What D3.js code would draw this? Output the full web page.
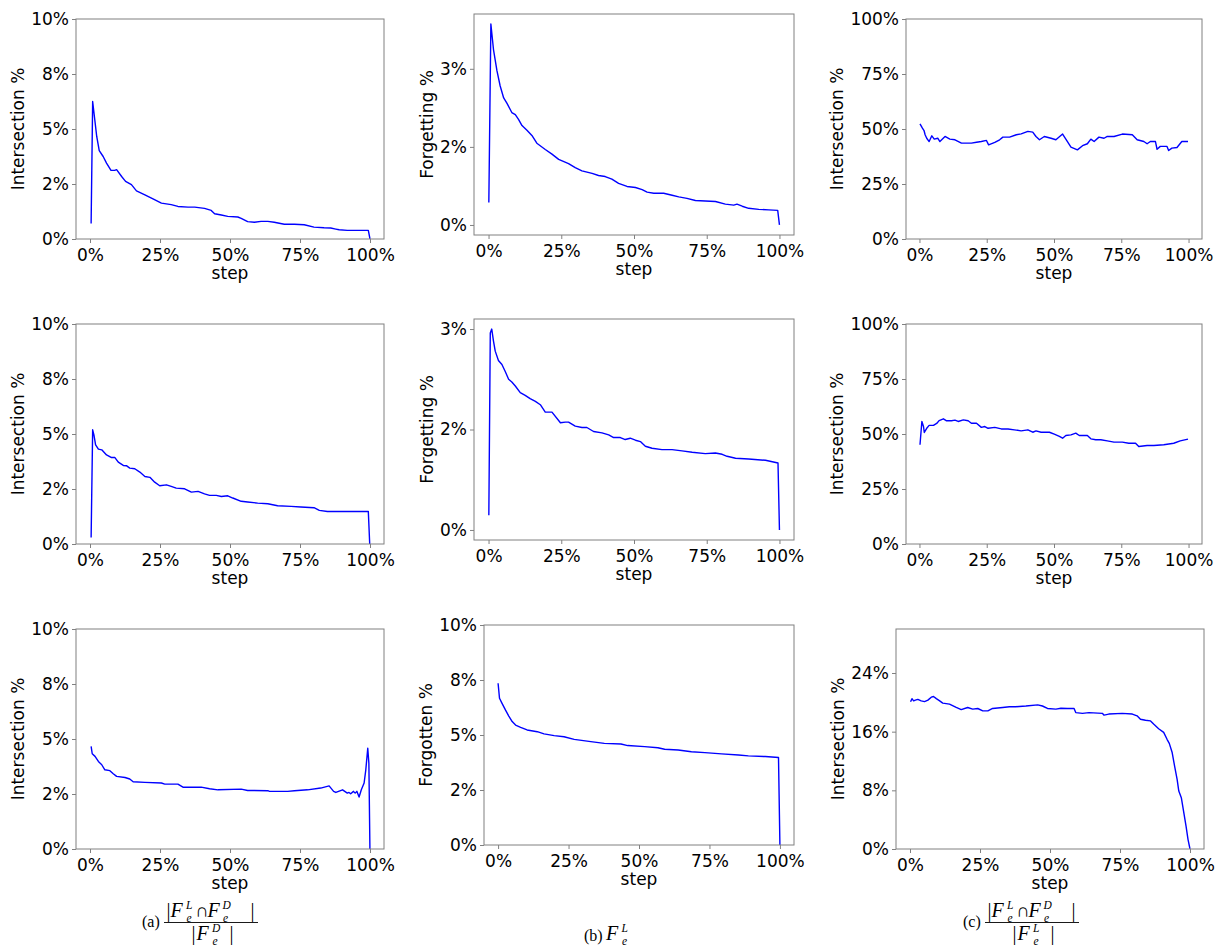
<!DOCTYPE html>
<html><head><meta charset="utf-8">
<script src="https://cdn.jsdelivr.net/npm/d3@7"></script>
<style>body{margin:0;background:#fff}</style>
</head><body>
<svg id="chart" width="1217" height="947"></svg>
<script>
// ---------- tick values & labels ----------
const xTicks = [0, 0.25, 0.5, 0.75, 1];
const xTickLabels = ["0%", "25%", "50%", "75%", "100%"];
const yTicksA = [0, 2.5, 5, 7.5, 10];
const yTickLabelsA = ["0%", "2%", "5%", "8%", "10%"];
const yTicksB = [0, 1.5, 3];
const yTickLabelsB = ["0%", "2%", "3%"];
const yTicksC = [0, 25, 50, 75, 100];
const yTickLabelsC = ["0%", "25%", "50%", "75%", "100%"];
const yTicksC3 = [0, 8, 16, 24];
const yTickLabelsC3 = ["0%", "8%", "16%", "24%"];
const xTitle = "step";

// ---------- series (step fraction, value in %) ----------
const a1Steps = [0.004,0.0095,0.024,0.033,0.047,0.059,0.075,0.088,0.095,0.113,0.127,0.148,0.166,0.196,0.225,0.255,0.29,0.314,0.35,0.374,0.409,0.433,0.445,0.469,0.492,0.528,0.54,0.563,0.587,0.611,0.635,0.658,0.694,0.73,0.765,0.80,0.836,0.86,0.878,0.89,0.919,0.955,0.994,1.0];
const a1Values = [0.70,6.25,4.66,4.02,3.75,3.45,3.12,3.12,3.15,2.84,2.62,2.47,2.19,2.01,1.82,1.63,1.56,1.48,1.45,1.45,1.39,1.30,1.15,1.09,1.03,1.00,0.94,0.79,0.76,0.80,0.80,0.76,0.67,0.67,0.65,0.54,0.51,0.50,0.45,0.42,0.39,0.39,0.39,0.0];

const b1Steps = [0.001,0.008,0.017,0.029,0.04,0.052,0.063,0.08,0.092,0.103,0.115,0.132,0.149,0.166,0.195,0.218,0.241,0.275,0.298,0.321,0.356,0.378,0.401,0.424,0.447,0.476,0.505,0.528,0.545,0.568,0.602,0.631,0.654,0.682,0.711,0.745,0.78,0.814,0.843,0.854,0.872,0.894,0.929,0.963,0.994,1.0];
const b1Values = [0.43,3.86,3.37,2.96,2.67,2.44,2.34,2.16,2.12,2.03,1.91,1.82,1.72,1.57,1.45,1.36,1.26,1.18,1.10,1.04,0.99,0.95,0.93,0.88,0.80,0.74,0.72,0.68,0.63,0.61,0.61,0.57,0.54,0.51,0.47,0.46,0.45,0.40,0.38,0.40,0.36,0.32,0.30,0.29,0.28,0.0];

const c1Steps = [0.002,0.011,0.017,0.021,0.027,0.036,0.046,0.055,0.068,0.076,0.095,0.113,0.132,0.156,0.193,0.212,0.23,0.249,0.257,0.28,0.298,0.31,0.335,0.36,0.378,0.403,0.421,0.433,0.446,0.464,0.489,0.507,0.532,0.544,0.563,0.587,0.606,0.624,0.637,0.649,0.667,0.686,0.698,0.723,0.754,0.791,0.809,0.834,0.846,0.858,0.877,0.883,0.895,0.92,0.926,0.938,0.957,0.975,0.998];
const c1Values = [52.3,50.4,49.3,47.4,45.8,44.3,46.9,45.4,45.8,44.3,46.6,45.4,45.1,43.6,43.6,44.0,44.3,44.8,42.8,43.9,45.1,46.3,46.3,47.4,47.8,48.9,48.6,46.6,45.1,46.6,45.8,45.1,47.7,45.4,41.8,40.5,42.4,43.3,45.4,44.3,46.3,45.8,46.6,46.6,47.7,47.4,45.1,44.3,43.3,44.3,44.3,40.8,42.1,42.1,40.2,41.3,41.6,44.3,44.3];

const a2Steps = [0.004,0.0095,0.014,0.02,0.03,0.042,0.059,0.077,0.089,0.101,0.119,0.13,0.142,0.16,0.178,0.196,0.214,0.231,0.249,0.273,0.29,0.308,0.338,0.362,0.386,0.409,0.427,0.451,0.469,0.492,0.51,0.54,0.563,0.599,0.635,0.67,0.718,0.753,0.80,0.819,0.848,0.919,0.994,1.0];
const a2Values = [0.30,5.19,4.96,4.51,4.31,4.28,4.05,3.93,3.93,3.72,3.57,3.56,3.45,3.42,3.27,3.07,3.03,2.81,2.65,2.69,2.62,2.54,2.51,2.36,2.39,2.28,2.21,2.21,2.16,2.19,2.09,1.94,1.91,1.86,1.83,1.74,1.71,1.68,1.65,1.53,1.48,1.48,1.48,-0.3];

const b2Steps = [0.001,0.006,0.011,0.017,0.023,0.034,0.046,0.057,0.069,0.08,0.092,0.109,0.126,0.143,0.161,0.178,0.195,0.218,0.247,0.264,0.275,0.298,0.321,0.338,0.361,0.39,0.413,0.43,0.453,0.47,0.487,0.505,0.522,0.539,0.562,0.596,0.631,0.665,0.70,0.745,0.78,0.803,0.82,0.849,0.894,0.952,0.995,1.0];
const b2Values = [0.22,2.94,3.0,2.82,2.67,2.53,2.47,2.37,2.25,2.21,2.15,2.05,2.01,1.96,1.92,1.87,1.76,1.76,1.60,1.61,1.61,1.55,1.53,1.53,1.47,1.45,1.42,1.38,1.38,1.35,1.37,1.34,1.32,1.25,1.22,1.20,1.20,1.18,1.16,1.14,1.15,1.13,1.10,1.07,1.06,1.04,1.00,0.0];

const c2Steps = [0.002,0.009,0.015,0.018,0.027,0.036,0.052,0.064,0.073,0.089,0.101,0.119,0.132,0.144,0.163,0.181,0.193,0.212,0.23,0.243,0.255,0.28,0.304,0.329,0.353,0.378,0.403,0.421,0.433,0.452,0.483,0.501,0.52,0.532,0.544,0.563,0.581,0.594,0.624,0.637,0.655,0.674,0.698,0.723,0.754,0.778,0.803,0.815,0.846,0.871,0.908,0.945,0.969,0.998];
const c2Values = [45.1,55.7,53.4,50.7,52.6,53.9,53.9,54.8,56.1,56.9,56.0,56.0,56.3,55.7,56.4,56.0,54.9,54.9,53.0,53.4,52.6,53.0,52.3,52.3,51.9,51.4,51.9,50.8,51.4,50.8,50.8,49.9,48.9,48.1,49.3,49.6,50.4,49.3,49.3,47.8,47.4,47.4,46.9,46.3,46.3,45.8,45.8,44.3,44.8,44.8,45.1,45.8,46.9,47.7];

const a3Steps = [0.004,0.008,0.018,0.03,0.042,0.053,0.071,0.083,0.095,0.125,0.142,0.154,0.196,0.255,0.267,0.314,0.332,0.397,0.427,0.457,0.54,0.563,0.635,0.641,0.706,0.73,0.777,0.824,0.854,0.87,0.878,0.902,0.919,0.925,0.931,0.941,0.947,0.953,0.961,0.969,0.979,0.985,0.992,0.996,1.0];
const a3Values = [4.66,4.33,4.21,3.98,3.83,3.60,3.56,3.42,3.30,3.25,3.18,3.06,3.03,3.00,2.95,2.95,2.81,2.81,2.74,2.69,2.72,2.66,2.65,2.62,2.62,2.65,2.69,2.77,2.87,2.62,2.57,2.69,2.54,2.57,2.51,2.62,2.54,2.62,2.36,2.69,3.00,3.60,4.58,3.90,-0.3];

const b3Steps = [0.0,0.005,0.014,0.026,0.038,0.05,0.062,0.08,0.103,0.139,0.163,0.199,0.234,0.27,0.329,0.377,0.436,0.46,0.52,0.567,0.591,0.639,0.686,0.734,0.793,0.853,0.888,0.948,0.995,1.0];
const b3Values = [7.35,6.67,6.44,6.14,5.86,5.61,5.45,5.35,5.23,5.15,5.05,4.97,4.92,4.80,4.70,4.62,4.59,4.52,4.47,4.42,4.35,4.32,4.24,4.20,4.14,4.09,4.05,4.02,3.98,0.0];

const c3Steps = [0.002,0.007,0.013,0.019,0.028,0.04,0.052,0.064,0.076,0.084,0.094,0.106,0.117,0.141,0.165,0.183,0.206,0.224,0.242,0.26,0.278,0.295,0.331,0.355,0.378,0.414,0.456,0.473,0.491,0.521,0.539,0.562,0.586,0.592,0.616,0.639,0.687,0.693,0.71,0.758,0.794,0.811,0.823,0.841,0.859,0.871,0.888,0.906,0.918,0.926,0.936,0.945,0.954,0.96,0.969,0.977,0.986,0.993,1.0];
const c3Values = [20.07,20.5,20.2,20.3,20.4,20.2,20.1,20.3,20.7,20.8,20.5,20.2,19.9,19.75,19.3,19.0,19.3,19.07,19.16,18.84,18.84,19.16,19.3,19.4,19.4,19.5,19.66,19.5,19.16,19.07,19.2,19.16,19.16,18.6,18.5,18.6,18.5,18.25,18.4,18.5,18.4,18.16,17.7,17.56,17.47,17.0,16.4,15.9,14.96,14.4,13.2,11.3,9.5,7.9,7.0,5.15,3.1,1.28,0.0];

// ---------- layout ----------
const panels = [
  {steps:a1Steps, values:a1Values, yt:yTicksA, yl:yTickLabelsA, title:"Intersection %", box:[76,384,19,239], yd:[0,10]},
  {steps:b1Steps, values:b1Values, yt:yTicksB, yl:yTickLabelsB, title:"Forgetting %", box:[474,794,14,235], yd:[-0.193,4.053]},
  {steps:c1Steps, values:c1Values, yt:yTicksC, yl:yTickLabelsC, title:"Intersection %", box:[906,1202,19,239], yd:[0,100]},
  {steps:a2Steps, values:a2Values, yt:yTicksA, yl:yTickLabelsA, title:"Intersection %", box:[76,384,324,544], yd:[0,10]},
  {steps:b2Steps, values:b2Values, yt:yTicksB, yl:yTickLabelsB, title:"Forgetting %", box:[474,794,319,540], yd:[-0.15,3.15]},
  {steps:c2Steps, values:c2Values, yt:yTicksC, yl:yTickLabelsC, title:"Intersection %", box:[906,1202,324,544], yd:[0,100]},
  {steps:a3Steps, values:a3Values, yt:yTicksA, yl:yTickLabelsA, title:"Intersection %", box:[76,384,629,849], yd:[0,10]},
  {steps:b3Steps, values:b3Values, yt:yTicksA, yl:yTickLabelsA, title:"Forgotten %", box:[484,794,625,845], yd:[0,10]},
  {steps:c3Steps, values:c3Values, yt:yTicksC3, yl:yTickLabelsC3, title:"Intersection %", box:[896,1204,629,849], yd:[0,30]}
];

const svg = d3.select("#chart");
const FONT = "'DejaVu Sans', sans-serif";
const FS = 17;
const spineColor = "#808080";

panels.forEach((p, i) => {
  const [l, r, t, b] = p.box;
  const x = d3.scaleLinear().domain([-0.05, 1.05]).range([l, r]);
  const y = d3.scaleLinear().domain(p.yd).range([b, t]);
  const g = svg.append("g");

  const clipId = "clip" + i;
  g.append("clipPath").attr("id", clipId).append("rect")
    .attr("x", l).attr("y", t).attr("width", r - l).attr("height", b - t);

  const data = d3.zip(p.steps, p.values);
  g.append("path").datum(data)
    .attr("clip-path", `url(#${clipId})`)
    .attr("fill", "none").attr("stroke", "#0000ff").attr("stroke-width", 1.4)
    .attr("stroke-linejoin", "round")
    .attr("d", d3.line().x(d => x(d[0])).y(d => y(d[1])));

  const xa = g.append("g").attr("transform", `translate(0,${b})`)
    .call(d3.axisBottom(x).tickValues(xTicks).tickFormat((d, k) => xTickLabels[k]).tickSize(4).tickPadding(5.5));
  const ya = g.append("g").attr("transform", `translate(${l},0)`)
    .call(d3.axisLeft(y).tickValues(p.yt).tickFormat((d, k) => p.yl[k]).tickSize(4).tickPadding(3));
  [xa, ya].forEach(a => {
    a.select(".domain").remove();
    a.selectAll("line").attr("stroke", spineColor);
    a.selectAll("text").attr("font-family", FONT).attr("font-size", FS).attr("fill", "#000");
  });

  g.append("rect").attr("x", l).attr("y", t).attr("width", r - l).attr("height", b - t)
    .attr("fill", "none").attr("stroke", spineColor).attr("stroke-width", 1);

  g.append("text").attr("x", (l + r) / 2).attr("y", b + 40)
    .attr("text-anchor", "middle").attr("font-family", FONT).attr("font-size", FS)
    .text(xTitle);

  let minLeft = l;
  ya.selectAll("text").each(function() { const bb = this.getBBox(); minLeft = Math.min(minLeft, l + bb.x); });
  const yx = minLeft - 7;
  g.append("text")
    .attr("transform", `translate(${yx},${(t + b) / 2}) rotate(-90)`)
    .attr("text-anchor", "middle").attr("font-family", FONT).attr("font-size", FS)
    .text(p.title);
});

// ---------- captions (one text element per formula, tspans placed absolutely) ----------
const SERIF = "'Liberation Serif', 'Times New Roman', serif";
const SCRIPT = 11.5;
function formula(g, parts) {
  const t = g.append("text").attr("font-family", SERIF);
  parts.forEach(([px, py, txt, size, italic]) => {
    t.append("tspan").attr("x", px).attr("y", py).attr("font-size", size)
      .attr("font-style", italic ? "italic" : "normal").text(txt);
  });
}
function fracCaption(dx, label, denomSup) {
  const g = svg.append("g").attr("transform", `translate(${dx},0)`);
  formula(g, [[142, 927, label, 16, false]]);
  formula(g, [
    [166.5, 917, "|", 20, false],
    [170.5, 917, "F", 20, true],
    [186, 909, "L", SCRIPT, true],
    [186.5, 922, "e", SCRIPT, true],
    [195, 917, "∩", 19, false],
    [207.5, 917, "F", 20, true],
    [222.5, 909, "D", SCRIPT, true],
    [223, 922, "e", SCRIPT, true],
    [250.5, 917, "|", 20, false]
  ]);
  g.append("line").attr("x1", 164).attr("x2", 258).attr("y1", 922.5).attr("y2", 922.5)
    .attr("stroke", "#000").attr("stroke-width", 0.9);
  formula(g, [
    [191.5, 940, "|", 20, false],
    [196.5, 940, "F", 20, true],
    [212, 931.5, denomSup, SCRIPT, true],
    [212.5, 944.5, "e", SCRIPT, true],
    [229.5, 940, "|", 20, false]
  ]);
}
fracCaption(0, "(a)", "D");
fracCaption(821, "(c)", "L");
{
  const g = svg.append("g");
  formula(g, [[584, 941, "(b)", 16, false]]);
  formula(g, [
    [606, 940, "F", 20, true],
    [621.5, 931.5, "L", SCRIPT, true],
    [622, 944.5, "e", SCRIPT, true]
  ]);
}
</script>
</body></html>
